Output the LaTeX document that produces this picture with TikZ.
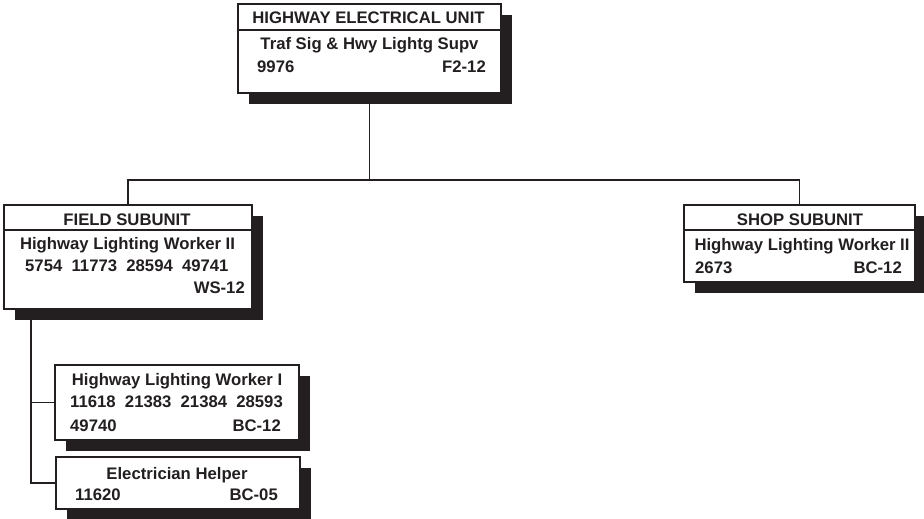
\documentclass[tikz,border=0pt]{standalone}
\usepackage{fontspec}
\setmainfont{Liberation Sans}
\usetikzlibrary{shadows,backgrounds}
\definecolor{ink}{HTML}{231F20}
\begin{document}
\begin{tikzpicture}[x=1pt,y=-1pt,
  box/.style={draw=ink, line width=1.8pt, fill=white, inner sep=0pt, anchor=north west,
    drop shadow={shadow xshift=11pt, shadow yshift=-11pt, fill=ink, opacity=1}},
  txt/.style={inner sep=0pt, font=\fontsize{16.7}{19}\selectfont\bfseries, text=ink},
  conn/.style={draw=ink, line width=1.8pt}]
\useasboundingbox (0,0) rectangle (924,519);
% boxes
\node[box, minimum width=263, minimum height=89] (top) at (237,3) {};
\node[box, minimum width=248, minimum height=104] (field) at (3,204) {};
\node[box, minimum width=231, minimum height=77] (shop) at (683,204) {};
\node[box, minimum width=244, minimum height=75] (w1) at (54,364) {};
\node[box, minimum width=244, minimum height=52] (elec) at (55,456) {};
% dividers
\draw[conn] ([yshift=-27pt]top.north west) -- ([yshift=-27pt]top.north east);
\draw[conn] ([yshift=-26pt]field.north west) -- ([yshift=-26pt]field.north east);
\draw[conn] ([yshift=-26pt]shop.north west) -- ([yshift=-26pt]shop.north east);
% connectors
\coordinate (j) at (368.5,180);
\coordinate (fs) at ([xshift=28pt]field.south west);
\begin{scope}[on background layer]
\draw[conn] (top.south) -- (top.south |- j);
\draw[conn] (field.north) |- (j) -| (shop.north);
\draw[conn] (fs) |- (elec.west);
\draw[conn] (w1.west) -- (w1.west -| fs);
\end{scope}
% texts: top
\node[txt, anchor=base] (t1) at (368.5,24) {HIGHWAY ELECTRICAL UNIT};
\node[txt, anchor=base] (t2) at (369.5,49.5) {Traf Sig \& Hwy Lightg Supv};
\node[txt, anchor=base west] (t3) at (257,73) {9976};
\node[txt, anchor=base east] (t4) at (486,73) {F2-12};
% field
\node[txt, anchor=base] (f1) at (127,225) {FIELD SUBUNIT};
\node[txt, anchor=base] (f2) at (127.5,249) {Highway Lighting Worker II};
\node[txt, anchor=base west] (f3) at (25,271) {5754~~11773~~28594~~49741};
\node[txt, anchor=base east] (f4) at (245,293) {WS-12};
% shop
\node[txt, anchor=base] (s1) at (800,225) {SHOP SUBUNIT};
\node[txt, anchor=base] (s2) at (802,250) {Highway Lighting Worker II};
\node[txt, anchor=base west] (s3) at (695,273) {2673};
\node[txt, anchor=base east] (s4) at (902,273) {BC-12};
% worker I
\node[txt, anchor=base] (w1a) at (177,385.5) {Highway Lighting Worker I};
\node[txt, anchor=base west] (w1b) at (70,407) {11618~~21383~~21384~~28593};
\node[txt, anchor=base west] (w1c) at (70,431) {49740};
\node[txt, anchor=base east] (w1d) at (281,431) {BC-12};
% electrician
\node[txt, anchor=base] (e1) at (177,479) {Electrician Helper};
\node[txt, anchor=base west] (e2) at (75,500) {11620};
\node[txt, anchor=base east] (e3) at (278,500) {BC-05};
\end{tikzpicture}
\end{document}
